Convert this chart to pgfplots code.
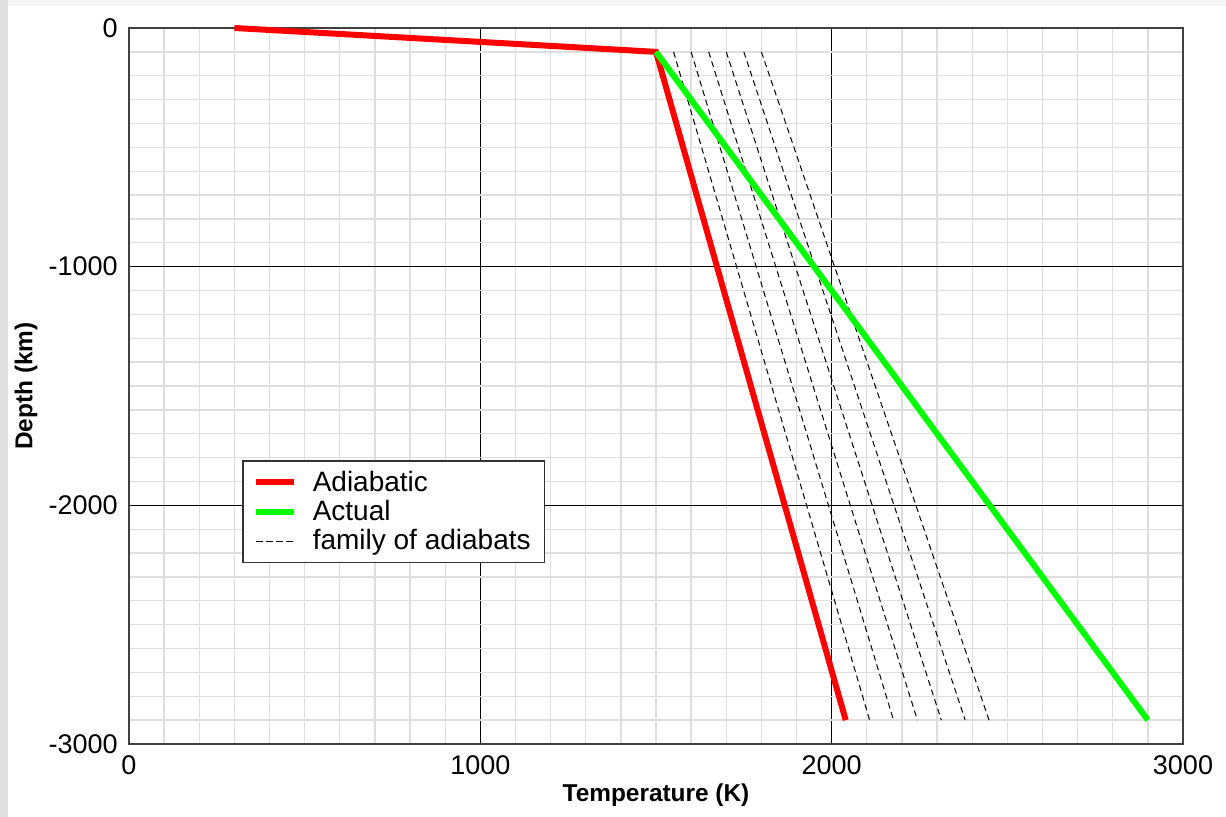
\documentclass[border=0pt]{standalone}
\usepackage{fontspec}
\setmainfont{Liberation Sans}
\usepackage{pgfplots}
\pgfplotsset{compat=1.18}

\begin{document}
\begin{tikzpicture}
% page: 1226 x 817 px at 0.5pt per px
\useasboundingbox (0,0) rectangle (613pt,408.5pt);
\fill[white] (0,0) rectangle (613pt,408.5pt);
\fill[black!3] (0,405.5pt) rectangle (613pt,408.5pt);
\fill[black!12] (0,0) rectangle (4pt,408.5pt);
\begin{axis}[
  at={(64.5pt,36.5pt)}, anchor=south west,
  scale only axis, width=527pt, height=358pt,
  xmin=0, xmax=3000, ymin=-3000, ymax=0,
  xtick={0,1000,2000,3000}, xticklabels={0,1000,2000,3000},
  ytick={-3000,-2000,-1000,0}, yticklabels={-3000,-2000,-1000,0},
  minor x tick num=9, minor y tick num=9,
  grid=both,
  major grid style={black, line width=0.7pt},
  minor grid style={black!13, line width=0.65pt},
  axis line style={draw=black!75, line width=1pt},
  major tick length=0pt, minor tick length=0pt,
  tick label style={font=\fontsize{13.5}{15}\selectfont},
  xticklabel style={anchor=north, inner sep=0pt, yshift=-5.5pt},
  yticklabel style={anchor=east, inner sep=0pt, xshift=-5.5pt},
  xlabel={\bfseries Temperature (K)},
  ylabel={\bfseries Depth (km)},
  label style={font=\fontsize{12.2}{14}\selectfont},
  xlabel style={at={(axis description cs:0.5,0)}, anchor=center, yshift=-25.5pt},
  ylabel style={at={(axis description cs:0,0.5)}, anchor=center, rotate=0, yshift=51.5pt},
  clip=false,
  legend style={at={(axis description cs:0.1072,0.3966)}, anchor=north west,
    draw=black!80, line width=0.8pt, fill=white,
    font=\fontsize{14}{15}\selectfont,
    inner xsep=5pt, inner ysep=3pt, row sep=-1pt,
    /tikz/every odd column/.append style={column sep=6pt}},
  legend cell align=left,
  legend image code/.code={\draw[#1] (0pt,0pt) -- (19pt,0pt);},
]
\addlegendimage{red, line width=3pt}
\addlegendentry{Adiabatic}
\addlegendimage{green, line width=3pt}
\addlegendentry{Actual}
\addlegendimage{black, line width=0.5pt, dash pattern=on 3.5pt off 1.5pt}
\addlegendentry{family of adiabats}

% family of adiabats
\addplot[forget plot, black, line width=0.5pt, dash pattern=on 3pt off 2pt] coordinates {(1550,-100) (2108,-2900)};
\addplot[forget plot, black, line width=0.5pt, dash pattern=on 3pt off 2pt] coordinates {(1600,-100) (2176,-2900)};
\addplot[forget plot, black, line width=0.5pt, dash pattern=on 3pt off 2pt] coordinates {(1650,-100) (2244,-2900)};
\addplot[forget plot, black, line width=0.5pt, dash pattern=on 3pt off 2pt] coordinates {(1700,-100) (2312,-2900)};
\addplot[forget plot, black, line width=0.5pt, dash pattern=on 3pt off 2pt] coordinates {(1750,-100) (2380,-2900)};
\addplot[forget plot, black, line width=0.5pt, dash pattern=on 3pt off 2pt] coordinates {(1800,-100) (2448,-2900)};

% adiabatic
\addplot[forget plot, red, line width=3pt] coordinates {(300,0) (1500,-100) (2040,-2900)};
% actual
\addplot[forget plot, green, line width=3pt] coordinates {(1500,-100) (2900,-2900)};
\end{axis}
\end{tikzpicture}
\end{document}
